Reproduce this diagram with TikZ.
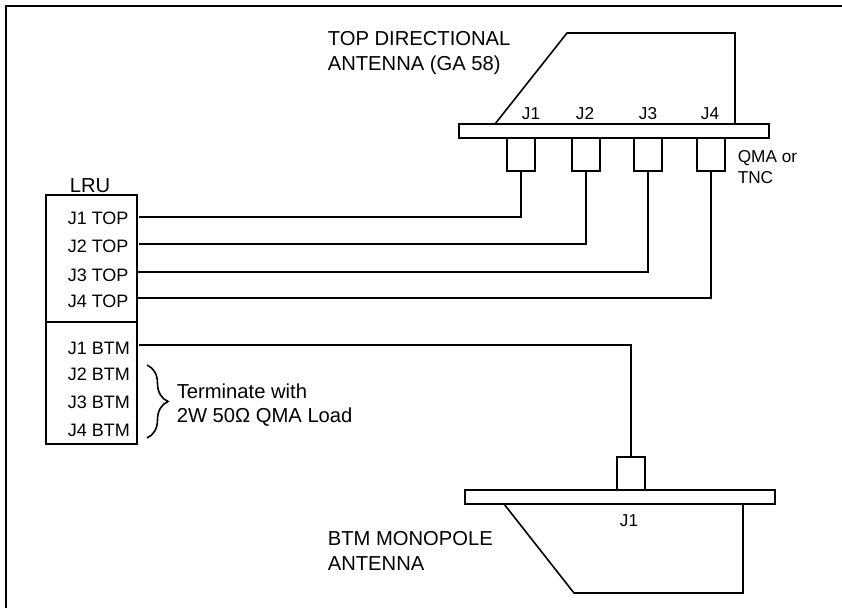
\documentclass[tikz,border=0pt]{standalone}
\usepackage{fontspec}
\setmainfont{Liberation Sans}
\usetikzlibrary{decorations.pathreplacing}
\tikzset{
  lbl/.style={inner sep=0pt,anchor=base west,font=\fontsize{20.2}{24}\selectfont},
  lblj/.style={inner sep=0pt,anchor=base west,font=\fontsize{18}{22}\selectfont},
  lblq/.style={inner sep=0pt,anchor=base west,font=\fontsize{17.2}{20}\selectfont},
  lblc/.style={inner sep=0pt,anchor=base,font=\fontsize{17.2}{20}\selectfont},
  antbar/.style={draw,fill=white,inner sep=0pt,minimum height=14pt,minimum width=310pt},
  conn/.style={draw,fill=white,inner sep=0pt,minimum height=33pt,minimum width=28pt}
}
\begin{document}
\begin{tikzpicture}[x=1pt,y=-1pt,line width=1.6pt]
  \useasboundingbox (0,0) rectangle (842,608);
  \draw (6,608)--(6,6)--(842,6);

  % top antenna
  \node[antbar] (tbar) at (614,131) {};
  \coordinate (tl) at (495,124);
  \coordinate (tr) at (735,124);
  \draw (tl)--(567,33)--(tr |- 0,33)--(tr);
  \node[conn] (ca) at (521,154.5) {};
  \node[conn] (cb) at (586,154.5) {};
  \node[conn] (cc) at (648,154.5) {};
  \node[conn] (cd) at (711,154.5) {};
  \foreach \n/\txt/\x in {ja/J1/531,jb/J2/585,jc/J3/648,jd/J4/710}
    \node[lblc] (\n) at (\x,119) {\txt};
  \node[lbl] (tname) at (327,45) {TOP DIRECTIONAL};
  \node[lbl] (tnameb) at (327,70) {ANTENNA (GA 58)};
  \node[lblq] (qma) at (737,162) {QMA or};
  \node[lblq] (tnc) at (737,183) {TNC};

  % LRU
  \node[draw,inner sep=0pt,minimum width=91pt,minimum height=249pt] (lru) at (91.5,319.5) {};
  \draw (lru.west |- 0,322)--(lru.east |- 0,322);
  \node[lbl,anchor=base] (lruname) at (90,192) {LRU};
  \foreach \n/\txt/\y in {la/J1 TOP/224,lb/J2 TOP/252,lc/J3 TOP/281,ld/J4 TOP/307,
      le/J1 BTM/354,lf/J2 BTM/380,lg/J3 BTM/408,lh/J4 BTM/436}
    \node[lblj] (\n) at (67,\y) {\txt};

  % wires
  \coordinate (wa) at (139,217);
  \coordinate (wb) at (139,244);
  \coordinate (wc) at (138,272);
  \coordinate (wd) at (138,298);
  \coordinate (we) at (139,345);
  \draw (wa)--(wa -| ca.south)--(ca.south);
  \draw (wb)--(wb -| cb.south)--(cb.south);
  \draw (wc)--(wc -| cc.south)--(cc.south);
  \draw (wd)--(wd -| cd.south)--(cd.south);

  % brace
  \coordinate (ba) at (147,365);
  \coordinate (bb) at (147,438);
  \draw[decorate,decoration={brace,amplitude=21pt,raise=0pt}] (ba)--(bb);
  \node[lbl] (term) at (176,398) {Terminate with};
  \node[lbl] (termb) at (176,422) {2W 50Ω QMA Load};

  % bottom antenna
  \node[antbar] (bbar) at (620,497) {};
  \node[conn] (ce) at (631,473.5) {};
  \draw (we)--(we -| ce.north)--(ce.north);
  \coordinate (bl) at (504,504);
  \coordinate (br) at (743,504);
  \draw (bl)--(574,593)--(br |- 0,593)--(br);
  \node[lblc] (jf) at (629,526) {J1};
  \node[lbl] (bname) at (327,545) {BTM MONOPOLE};
  \node[lbl] (bnameb) at (327,570) {ANTENNA};
\end{tikzpicture}
\end{document}
